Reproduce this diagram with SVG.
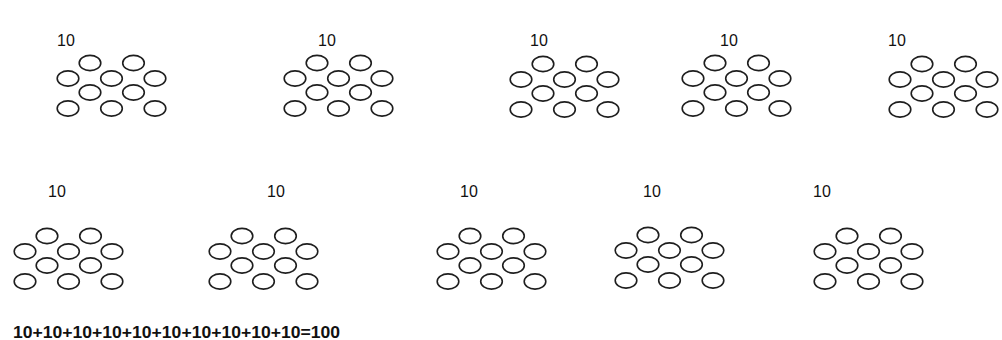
<svg xmlns="http://www.w3.org/2000/svg" xmlns:xlink="http://www.w3.org/1999/xlink" width="1002" height="340" viewBox="0 0 1002 340">
<style>
.o{fill:none;stroke:#1e1e1e;stroke-width:1.6}
.lbl{font-family:"Liberation Sans",Arial,sans-serif;font-size:16px;fill:#111}
.sum{font-family:"Liberation Sans",Arial,sans-serif;font-size:16.5px;font-weight:bold;fill:#111}
</style>
<defs>
<g id="cl">
<ellipse class="o" cx="0" cy="0" rx="10.8" ry="7.6"/>
<ellipse class="o" cx="43.5" cy="0" rx="10.8" ry="7.6"/>
<ellipse class="o" cx="-22" cy="15.5" rx="10.8" ry="7.6"/>
<ellipse class="o" cx="21.5" cy="15.5" rx="10.8" ry="7.6"/>
<ellipse class="o" cx="65" cy="15.5" rx="10.8" ry="7.6"/>
<ellipse class="o" cx="0" cy="29.5" rx="10.8" ry="7.6"/>
<ellipse class="o" cx="43.5" cy="29.5" rx="10.8" ry="7.6"/>
<ellipse class="o" cx="-22" cy="45.5" rx="10.8" ry="7.6"/>
<ellipse class="o" cx="21.5" cy="45.5" rx="10.8" ry="7.6"/>
<ellipse class="o" cx="65" cy="45.5" rx="10.8" ry="7.6"/>
</g>
</defs>
<rect width="1002" height="340" fill="#fff"/>
<g id="n1"><text class="lbl" x="57" y="46">10</text><use href="#cl" x="90" y="63"/></g>
<g id="n2"><text class="lbl" x="318" y="46">10</text><use href="#cl" x="317" y="63"/></g>
<g id="n3"><text class="lbl" x="530" y="46">10</text><use href="#cl" x="543" y="64"/></g>
<g id="n4"><text class="lbl" x="720" y="46">10</text><use href="#cl" x="715" y="63"/></g>
<g id="n5"><text class="lbl" x="888" y="46">10</text><use href="#cl" x="922" y="64"/></g>
<g id="n6"><text class="lbl" x="48" y="197">10</text><use href="#cl" x="47" y="236"/></g>
<g id="n7"><text class="lbl" x="267" y="197">10</text><use href="#cl" x="242" y="236"/></g>
<g id="n8"><text class="lbl" x="460" y="197">10</text><use href="#cl" x="470" y="236"/></g>
<g id="n9"><text class="lbl" x="643" y="197">10</text><use href="#cl" x="648" y="235"/></g>
<g id="n10"><text class="lbl" x="813" y="197">10</text><use href="#cl" x="847" y="236"/></g>
<g id="connectors"></g>
<text id="sum" class="sum" x="13" y="338" textLength="327" lengthAdjust="spacingAndGlyphs">10+10+10+10+10+10+10+10+10+10=100</text>
</svg>
